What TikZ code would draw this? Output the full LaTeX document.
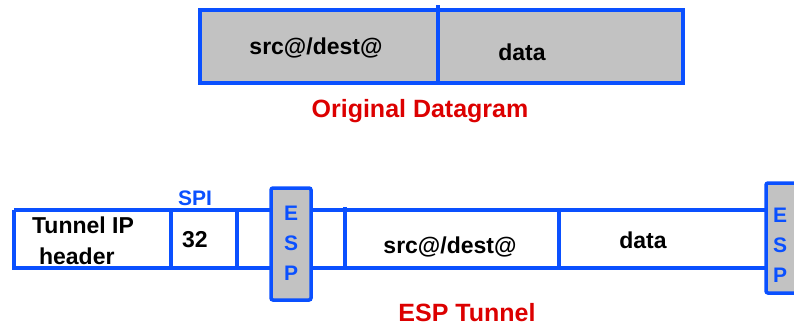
\documentclass[tikz,border=0pt]{standalone}
\usepackage{fontspec}
\setmainfont{Liberation Sans}
\definecolor{espblue}{RGB}{10,80,255}
\definecolor{espred}{RGB}{220,0,0}
\definecolor{espgray}{RGB}{194,194,194}
\begin{document}
\begin{tikzpicture}[x=1pt,y=-1pt]
      \tikzstyle{every node}=[font=\fontsize{23}{27}\selectfont\bfseries,inner sep=0pt]
      \tikzstyle{wire}=[draw=espblue,line width=3.5pt]
      \tikzstyle{espbox}=[wire,fill=espgray,rounded corners=2pt]
      \tikzstyle{esplbl}=[text=espblue,font=\fontsize{21}{24}\selectfont\bfseries]
      \tikzstyle{caption}=[text=espred,font=\fontsize{25}{28}\selectfont\bfseries]
      \clip (0,0) rectangle (794,327);

      % original datagram
      \draw[wire,fill=espgray] (200,10) rectangle (683,83);
      \draw[wire] (438,5) -- (438,83);
      \node (osrc) at (316,48) {src@/dest@};
      \node (odata) at (522,52) {data};
      \node[caption] (orig) at (420,111) {Original Datagram};

      % tunnel
      \draw[wire] (14,210) -- (766,210);
      \draw[wire] (12,268) -- (766,268);
      \draw[wire] (14,210) -- (14,270);
      \draw[wire] (171,210) -- (171,268);
      \draw[wire] (237,210) -- (237,268);
      \draw[wire] (345,207) -- (345,268);
      \draw[wire] (559,210) -- (559,268);
      \draw[espbox] (271,188) rectangle (311,300);
      \draw[espbox] (766,183) rectangle (810,293);

      \node[align=left,font=\fontsize{23}{31}\selectfont\bfseries] (hdr) at (83,241) {Tunnel IP\\\hspace*{7pt}header};
      \node (spi) at (195,240) {32};
      \node[esplbl] (spilbl) at (195,198) {SPI};
      \node (tsrc) at (450,247) {src@/dest@};
      \node (tdata) at (643,240) {data};
      \node[esplbl,align=center] (esp1) at (291,243) {E\\[6pt]S\\[6pt]P};
      \node[esplbl,align=center] (esp2) at (780,245) {E\\[6pt]S\\[6pt]P};
      \node[caption] (tun) at (467,313) {ESP Tunnel};
    \end{tikzpicture}
\end{document}
